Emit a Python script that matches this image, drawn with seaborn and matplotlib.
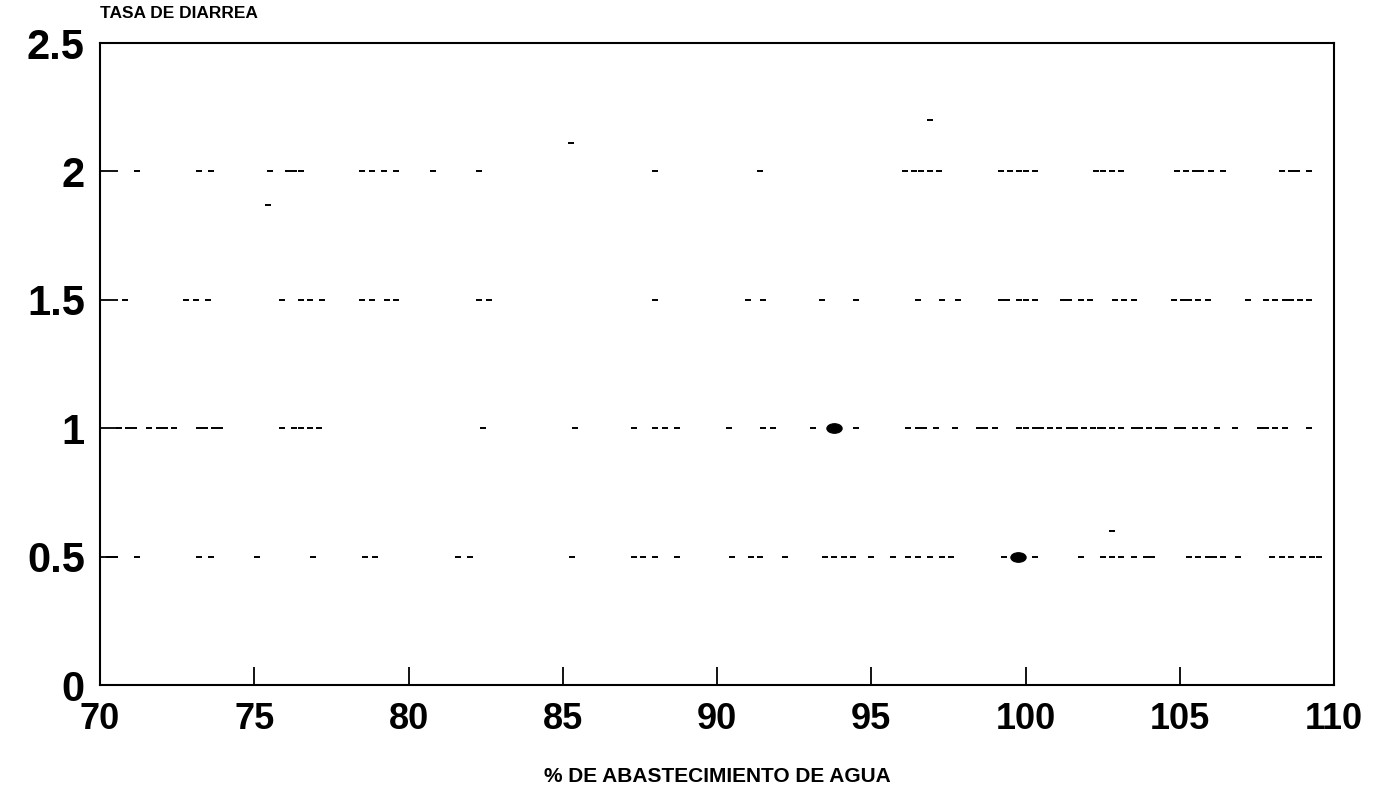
import matplotlib
matplotlib.use("Agg")
import matplotlib.pyplot as plt
from matplotlib.path import Path
from matplotlib.transforms import Affine2D
import seaborn as sns
import pandas as pd

# % de abastecimiento de agua por nivel de tasa de diarrea
x_tasa_2 = [71.2, 73.2, 73.6, 75.5, 76.1, 76.3, 76.5, 78.5, 78.8, 79.2, 79.6,
            80.8, 82.3, 88.0, 91.4, 96.1, 96.4, 96.6, 96.9, 97.2, 99.2, 99.5,
            99.8, 100.0, 100.3, 102.3, 102.5, 102.8, 103.1, 104.9, 105.2,
            105.5, 105.7, 106.0, 106.4, 108.3, 108.6, 108.8, 109.2]
x_tasa_15 = [70.8, 72.8, 73.1, 73.5, 75.9, 76.5, 76.8, 77.2, 78.5, 78.8, 79.3,
             79.6, 82.3, 82.6, 88.0, 91.0, 91.5, 93.4, 94.5, 96.5, 97.3, 97.8,
             99.2, 99.4, 99.8, 100.0, 100.3, 101.2, 101.4, 101.8, 102.1, 102.9,
             103.2, 103.5, 104.8, 105.1, 105.3, 105.6, 105.9, 107.2, 107.8,
             108.1, 108.4, 108.6, 108.9, 109.2]
x_tasa_1 = [70.6, 70.9, 71.1, 71.6, 71.9, 72.1, 72.4, 73.2, 73.4, 73.7, 73.9,
            75.9, 76.3, 76.5, 76.8, 77.1, 82.4, 85.4, 87.3, 88.0, 88.3, 88.7,
            90.4, 91.5, 91.8, 93.1, 94.5, 96.2, 96.5, 96.7, 97.1, 97.7, 98.5,
            98.7, 99.0, 99.8, 100.0, 100.3, 100.5, 100.8, 101.1, 101.4, 101.6,
            101.9, 102.2, 102.4, 102.5, 102.8, 103.1, 103.5, 103.7, 104.0,
            104.3, 104.5, 104.9, 105.1, 105.5, 105.8, 106.2, 106.8, 107.6,
            107.8, 108.1, 108.4, 109.2]
x_tasa_05 = [70.3, 70.5, 71.2, 73.2, 73.6, 75.1, 76.9, 78.6, 78.9, 81.6, 82.0,
             85.3, 87.3, 87.6, 88.0, 88.7, 90.5, 91.1, 91.4, 92.2, 93.5, 93.8,
             94.1, 94.4, 95.0, 95.7, 96.2, 96.5, 96.9, 97.3, 97.6, 99.3, 100.3,
             101.8, 102.5, 102.8, 103.1, 103.5, 103.9, 104.1, 105.3, 105.6,
             105.9, 106.1, 106.4, 106.9, 108.0, 108.3, 108.6, 109.0, 109.3,
             109.5]
# puntos sueltos fuera de los niveles
x_sueltos = [75.45, 85.27, 96.9, 102.8]
y_sueltos = [1.87, 2.11, 2.2, 0.6]
# observaciones repetidas (marca mayor)
x_repetidos = [93.8, 99.75]
y_repetidos = [1.0, 0.5]

x_ticks = [70, 75, 80, 85, 90, 95, 100, 105, 110]
y_ticks = [0, 0.5, 1, 1.5, 2, 2.5]
y_tick_labels = ["0", "0.5", "1", "1.5", "2", "2.5"]

niveles = [(2.0, x_tasa_2), (1.5, x_tasa_15), (1.0, x_tasa_1), (0.5, x_tasa_05)]
df = pd.DataFrame(
    [(x, y) for y, xs in niveles for x in xs] +
    list(zip(x_sueltos, y_sueltos)),
    columns=["abastecimiento", "tasa"],
)
df_rep = pd.DataFrame({"abastecimiento": x_repetidos, "tasa": y_repetidos})

sns.set_theme(style="ticks")
plt.rcParams["font.family"] = ["Liberation Sans", "DejaVu Sans"]
plt.rcParams["font.weight"] = "bold"
plt.rcParams["text.color"] = "black"

fig = plt.figure(figsize=(13.76, 7.98), dpi=100)
ax = fig.add_axes([0.0727, 0.1416, 0.8968, 0.8044])

sns.scatterplot(data=df, x="abastecimiento", y="tasa", marker="_", s=14,
                color="black", linewidth=1.4, ax=ax, legend=False)

# marca ovalada para los valores repetidos
ovalo = Path.unit_circle().transformed(Affine2D().scale(1.6, 1.0))
sns.scatterplot(data=df_rep, x="abastecimiento", y="tasa", marker=ovalo,
                s=120, color="black", edgecolor="black", ax=ax, legend=False)

ax.set_xlim(70, 110)
ax.set_ylim(0, 2.5)
ax.set_xticks(x_ticks)
ax.set_yticks(y_ticks)
ax.set_yticklabels(y_tick_labels)
ax.tick_params(axis="both", direction="in", length=13, width=1.3,
               pad=12, colors="black")
ax.tick_params(axis="x", labelsize=26)
ax.tick_params(axis="y", labelsize=30, pad=11)
for lab in ax.get_xticklabels() + ax.get_yticklabels():
    lab.set_fontweight("bold")
for sp in ax.spines.values():
    sp.set_visible(True)
    sp.set_linewidth(1.5)
    sp.set_color("black")

ax.set_xlabel("% DE ABASTECIMIENTO DE AGUA", fontsize=15, fontweight="bold",
              labelpad=22, color="black")
ax.set_ylabel("")
ax.text(0.0, 1.035, "TASA DE DIARREA", transform=ax.transAxes, fontsize=12.5,
        fontweight="bold", ha="left", va="bottom", color="black")

fig.savefig("out.png", dpi=100, facecolor="white")
